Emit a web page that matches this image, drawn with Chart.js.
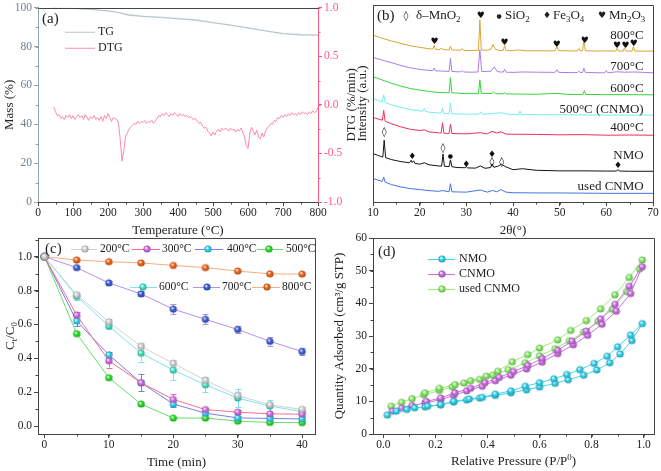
<!DOCTYPE html>
<html>
<head>
<meta charset="utf-8">
<script src="https://cdn.jsdelivr.net/npm/chart.js@4.4.1/dist/chart.umd.min.js"></script>
<style>
  html, body { margin: 0; padding: 0; background: #fff; }
  #wrap { position: relative; width: 661px; height: 471px; overflow: hidden; }
  #wrap canvas { position: absolute; left: 0; top: 0; }
</style>
</head>
<body>
<div id="wrap">
  <canvas id="cA" width="661" height="471"></canvas>
  <canvas id="cB" width="661" height="471"></canvas>
  <canvas id="cC" width="661" height="471"></canvas>
  <canvas id="cD" width="661" height="471"></canvas>
</div>
<script>
// ---------- (a) TG / DTG ----------
const tempTicks = [0, 100, 200, 300, 400, 500, 600, 700, 800];
const massTicks = [0, 20, 40, 60, 80, 100];
const dtgTicks = [-1, -0.5, 0, 0.5, 1];

const tgTemp = [40, 100, 150, 200, 225, 240, 255, 275, 300, 350, 400, 450, 500, 550, 600, 650, 700, 750, 800];
const tgMass = [100, 99.7, 99.2, 98.4, 97.8, 97.1, 96.4, 96.0, 95.6, 95.0, 94.4, 93.7, 92.3, 91.1, 89.6, 88.1, 86.7, 86.1, 85.9];

const dtgTemp = [
  45, 50, 55, 60, 65, 70, 75, 80, 85, 90, 95, 100, 105, 110, 115, 120, 125, 130, 135, 140,
  145, 150, 155, 160, 165, 170, 175, 180, 185, 190, 195, 200, 205, 210, 215, 220, 225, 230, 235, 240,
  245, 250, 255, 260, 265, 270, 275, 280, 285, 290, 295, 300, 305, 310, 315, 320, 325, 330, 335, 340,
  345, 350, 355, 360, 365, 370, 375, 380, 385, 390, 395, 400, 405, 410, 415, 420, 425, 430, 435, 440,
  445, 450, 455, 460, 465, 470, 475, 480, 485, 490, 495, 500, 505, 510, 515, 520, 525, 530, 535, 540,
  545, 550, 555, 560, 565, 570, 575, 580, 585, 590, 595, 600, 605, 610, 615, 620, 625, 630, 635, 640,
  645, 650, 655, 660, 665, 670, 675, 680, 685, 690, 695, 700, 705, 710, 715, 720, 725, 730, 735, 740,
  745, 750, 755, 760, 765, 770, 775, 780, 785, 790, 795, 800
];
const dtgRate = [
  -0.02, -0.07, -0.11, -0.10, -0.14, -0.12, -0.15, -0.11, -0.13, -0.10, -0.14, -0.11, -0.15, -0.12, -0.10, -0.13, -0.11, -0.15, -0.10, -0.13,
  -0.16, -0.12, -0.14, -0.11, -0.15, -0.13, -0.16, -0.12, -0.17, -0.11, -0.14, -0.09, -0.13, -0.17, -0.13, -0.14, -0.15, -0.19, -0.36, -0.58,
  -0.47, -0.33, -0.29, -0.25, -0.23, -0.21, -0.19, -0.20, -0.17, -0.19, -0.17, -0.18, -0.16, -0.19, -0.17, -0.18, -0.16, -0.19, -0.17, -0.14,
  -0.11, -0.12, -0.09, -0.11, -0.08, -0.10, -0.12, -0.09, -0.11, -0.08, -0.10, -0.12, -0.09, -0.11, -0.10, -0.12, -0.11, -0.13, -0.12, -0.14,
  -0.15, -0.14, -0.17, -0.19, -0.18, -0.22, -0.24, -0.23, -0.27, -0.29, -0.32, -0.28, -0.31, -0.27, -0.25, -0.28, -0.24, -0.26, -0.24, -0.25,
  -0.27, -0.24, -0.26, -0.25, -0.28, -0.25, -0.27, -0.24, -0.28, -0.33, -0.42, -0.45, -0.30, -0.23, -0.27, -0.31, -0.26, -0.33, -0.35, -0.29,
  -0.33, -0.27, -0.24, -0.22, -0.19, -0.20, -0.16, -0.17, -0.13, -0.14, -0.11, -0.13, -0.10, -0.12, -0.09, -0.11, -0.08, -0.10, -0.09, -0.11,
  -0.08, -0.10, -0.07, -0.09, -0.08, -0.10, -0.07, -0.09, -0.06, -0.08, -0.07, -0.02
];

// ---------- (b) XRD, [2theta, stacked intensity] ----------
const thetaTicks = [10, 20, 30, 40, 50, 60, 70];
const xrd800 = [[10,84.7],[12,83.1],[14,81.7],[16,80.5],[18,79.3],[20,78.5],[22,77.8],[22.8,77.6],[23.1,79.6],[23.4,77.5],
  [24.3,77.4],[24.6,78.2],[24.9,77.4],[26.3,77.2],[26.6,79.0],[26.9,77.2],[28,77.1],[28.8,77.0],[29.1,77.9],[29.4,77.0],
  [31,76.9],[32.6,77.0],[32.9,92.5],[33.2,77.2],[34.5,77.0],[35.3,77.6],[35.7,80.0],[36.2,77.6],[37,77.0],[37.9,76.9],
  [38.2,79.4],[38.5,76.9],[40,76.8],[41,77.2],[43,76.7],[45,76.8],[48,76.7],[49.0,76.8],[49.4,78.8],[49.8,76.8],
  [52,76.7],[53.8,76.7],[54.1,77.9],[54.4,76.7],[54.9,76.8],[55.2,82.3],[55.5,76.8],[58,76.6],[60,76.7],[62.0,76.6],
  [62.3,78.0],[62.6,76.6],[63.6,76.6],[63.9,78.3],[64.2,76.6],[65.5,76.6],[65.8,78.8],[66.1,76.6],[68,76.6],[70,76.6]];
const xrd700 = [[10,73.4],[12,72.0],[14,70.7],[16,69.3],[18,68.1],[20,67.3],[22,66.8],[22.8,66.7],[23.1,68.0],[23.4,66.6],
  [24.5,66.5],[26.3,66.3],[26.6,72.9],[26.9,66.3],[28,66.1],[28.8,66.1],[29.1,66.8],[29.4,66.0],[31,65.9],[32.5,66.0],
  [32.9,77.3],[33.3,66.2],[35.3,66.4],[36,68.6],[36.6,66.2],[37.9,65.9],[38.2,67.4],[38.5,65.9],[40,65.8],[42,66.0],
  [45,65.9],[49.0,65.8],[49.4,67.1],[49.8,65.8],[52,65.7],[53.8,65.7],[54.1,66.4],[54.4,65.7],[54.9,65.8],[55.2,67.9],
  [55.5,65.8],[58,65.6],[59.7,65.6],[60,66.7],[60.3,65.6],[62.3,66.1],[64,65.9],[66,66.0],[70,65.6]];
const xrd600 = [[10,63.6],[12,61.9],[14,60.2],[16,58.8],[18,57.6],[20,56.8],[22,56.1],[24,55.6],[26.3,55.4],[26.6,63.2],
  [26.9,55.4],[28,55.3],[30,55.0],[32.6,55.0],[32.9,62.0],[33.2,55.1],[35.4,55.1],[35.8,55.9],[36.2,55.0],[37.9,54.9],
  [38.2,55.6],[38.5,54.9],[40,54.8],[45,54.7],[49.4,55.1],[52,54.6],[55.0,54.6],[55.3,56.6],[55.6,54.6],[60,54.5],
  [65,54.5],[70,54.4]];
const xrd500 = [[10,52.5],[12,50.8],[12.3,54.4],[12.6,50.5],[14,49.3],[16,48.0],[18,46.9],[20,46.3],[20.7,46.1],[21,47.7],
  [21.3,46.0],[22,45.6],[24,45.2],[24.6,45.1],[24.9,47.6],[25.2,45.0],[26.3,44.9],[26.6,50.3],[26.9,44.9],[28,44.7],
  [30,44.6],[32.7,44.6],[33.1,45.8],[33.5,44.5],[35.7,45.0],[37.4,45.3],[39,44.5],[41.2,44.4],[41.5,46.1],[41.8,44.4],
  [45,44.3],[50,44.3],[60,44.1],[70,44.1]];
const xrd400 = [[10,42.9],[12,41.5],[12.3,46.5],[12.6,41.0],[14,39.7],[16,38.1],[18,36.9],[20,36.3],[21,36.6],[22,35.6],
  [24,35.1],[24.6,35.0],[24.9,40.2],[25.2,34.9],[26.3,34.8],[26.6,39.5],[26.9,34.8],[28,34.7],[30,34.6],[33,35.2],
  [34.5,34.6],[35.5,35.9],[36.5,35.0],[37.4,35.6],[38.5,34.5],[40,34.4],[45,34.3],[50,34.1],[55,34.2],[60,33.9],
  [65,34.0],[70,33.9]];
const xrdNMO = [[10,24.6],[11,23.7],[12.1,22.8],[12.4,31.4],[12.7,22.5],[14,21.5],[16,20.5],[17.8,19.9],[18.2,21.2],[18.4,20.0],
  [18.7,20.9],[19.0,19.6],[20,19.2],[21,19.9],[22,18.9],[24,18.3],[24.7,18.2],[25,24.4],[25.3,18.1],[26.3,18.0],
  [26.6,21.4],[26.9,17.9],[28,17.5],[29.7,17.4],[30,17.9],[30.3,17.3],[32,17.2],[33,18.3],[34,17.1],[35.2,17.5],
  [35.5,19.4],[35.9,17.6],[36.8,18.2],[37.5,19.2],[38.3,18.0],[40,16.4],[42,16.9],[45,16.1],[50,15.8],[55,15.8],
  [60,15.7],[62.2,15.7],[62.5,16.5],[62.8,15.7],[65,15.6],[70,15.6]];
const xrdUsed = [[10,11.9],[12,10.5],[12.3,12.6],[12.6,10.1],[14,8.8],[16,7.6],[18,6.8],[20,6.3],[22,5.8],[24,5.4],
  [24.9,5.8],[26.3,5.2],[26.6,9.3],[26.9,5.2],[28,5.1],[30,5.0],[33,6.1],[34.5,5.0],[35.6,5.9],[36.5,5.2],
  [37.4,6.3],[38.5,5.0],[40,4.7],[45,4.6],[50,4.6],[60,4.4],[70,4.4]];
const xrdNames = ['800°C', '700°C', '600°C', '500°C (CNMO)', '400°C', 'NMO', 'used CNMO'];

// phase marks [2theta, intensity]
const markDelta = [[12.4,35.1],[25,27.1],[35.5,20.2],[37.6,20.2]];
const markSiO2 = [[26.6,23.2]];
const markFe3O4 = [[18.4,22.9],[30,19.0],[35.5,23.9],[62.5,18.3]];
const markMn2O3 = [[23.2,81.3],[33.1,94.6],[38.2,80.8],[49.4,80.0],[55.4,81.9],[62.3,79.3],[64.1,79.3],[65.9,80.2]];

// ---------- (c) Ct/C0 vs time ----------
const timeTicks = [0, 10, 20, 30, 40];
const ratioTicks = [0, 0.2, 0.4, 0.6, 0.8, 1.0];
const timeMin = [0, 5, 10, 15, 20, 25, 30, 35, 40];
const cLabels = ['200°C', '300°C', '400°C', '500°C', '600°C', '700°C', '800°C'];
const c200 = [1.0, 0.775, 0.615, 0.47, 0.37, 0.27, 0.18, 0.125, 0.098];
const c300 = [1.0, 0.655, 0.385, 0.255, 0.157, 0.097, 0.082, 0.072, 0.07];
const c400 = [1.0, 0.62, 0.42, 0.255, 0.13, 0.076, 0.048, 0.045, 0.042];
const c500 = [1.0, 0.545, 0.285, 0.13, 0.047, 0.047, 0.029, 0.021, 0.02];
const c600 = [1.0, 0.765, 0.59, 0.43, 0.33, 0.243, 0.165, 0.118, 0.085];
const c700 = [1.0, 0.935, 0.845, 0.78, 0.69, 0.63, 0.57, 0.50, 0.44];
const c800 = [1.0, 0.98, 0.97, 0.963, 0.948, 0.935, 0.915, 0.898, 0.897];
const e200 = [0, 0.01, 0.015, 0.02, 0.02, 0.015, 0.02, 0.015, 0.015];
const e300 = [0, 0.02, 0.04, 0.015, 0.03, 0.01, 0.01, 0.01, 0.01];
const e400 = [0, 0.03, 0.02, 0.05, 0.02, 0.01, 0.01, 0.01, 0.01];
const e500 = [0, 0.01, 0.01, 0.01, 0.005, 0.005, 0.005, 0.005, 0.005];
const e600 = [0, 0.02, 0.02, 0.05, 0.06, 0.045, 0.055, 0.035, 0.025];
const e700 = [0, 0.01, 0.01, 0.015, 0.03, 0.03, 0.02, 0.025, 0.02];
const e800 = [0, 0.005, 0.005, 0.005, 0.005, 0.005, 0.005, 0.005, 0.005];

// ---------- (d) N2 isotherms (adsorption then desorption) ----------
const pTicks = [0, 0.2, 0.4, 0.6, 0.8, 1.0];
const qTicks = [0, 10, 20, 30, 40, 50, 60];
const nmoP = [0.015,0.05,0.09,0.12,0.16,0.22,0.27,0.32,0.37,0.43,0.49,0.55,0.60,0.66,0.71,0.77,0.82,0.87,0.91,0.955,0.995,
  0.95,0.90,0.86,0.81,0.755,0.705,0.655,0.60,0.545,0.49,0.43,0.38,0.33,0.27,0.22,0.17];
const nmoQ = [5.8,7.0,7.5,8.0,8.3,8.9,9.8,10.4,11.0,11.8,12.6,13.5,14.4,15.5,16.6,18.0,19.6,21.8,24.5,28.6,33.8,
  30.3,26.7,23.8,21.6,19.7,18.2,16.9,15.7,14.6,13.2,12.2,11.2,10.7,10.0,9.0,8.5];
const cnmoP = [0.035,0.07,0.11,0.16,0.22,0.27,0.32,0.38,0.43,0.49,0.55,0.61,0.67,0.73,0.785,0.84,0.895,0.95,0.995,
  0.945,0.89,0.835,0.78,0.725,0.67,0.61,0.555,0.50,0.445,0.39,0.335,0.275,0.22,0.165];
const cnmoQ = [7.0,7.9,8.7,9.5,10.5,11.8,13.2,14.6,16.3,18.0,19.9,22.0,24.6,27.3,30.2,33.6,37.6,43.0,51.2,
  45.2,39.7,35.2,31.5,28.4,25.6,23.1,21.0,19.1,17.3,15.7,14.0,12.6,11.0,10.0];
const usedP = [0.03,0.07,0.11,0.155,0.215,0.265,0.31,0.37,0.42,0.48,0.545,0.60,0.66,0.715,0.77,0.825,0.88,0.935,0.985,
  0.995,0.945,0.89,0.835,0.78,0.72,0.67,0.60,0.555,0.495,0.44,0.395,0.335,0.275,0.215,0.16];
const usedQ = [8.5,9.7,10.8,12.0,13.3,14.4,15.6,16.7,18.0,19.7,21.8,23.9,26.1,28.5,31.2,34.5,38.2,43.6,50.5,
  53.3,47.9,42.6,38.3,34.7,31.7,28.8,26.3,24.3,22.1,19.2,17.7,16.3,15.1,14.0,12.6];
const isoNames = ['NMO', 'CNMO', 'used CNMO'];

// ---------- helpers ----------
const SERIF = "'Liberation Serif', 'Times New Roman', serif";
const SYM = "'DejaVu Sans', sans-serif";
Chart.defaults.font.family = SERIF;
Chart.defaults.color = '#222';
const AX = '#444';

function pts(xs, ys) { return xs.map((x, i) => ({ x: x, y: ys[i] })); }
function pairs(list) { return list.map(p => ({ x: p[0], y: p[1] })); }

function darken(hex, f) {
  const n = parseInt(hex.slice(1), 16);
  const r = Math.round(((n >> 16) & 255) * (1 - f));
  const g = Math.round(((n >> 8) & 255) * (1 - f));
  const b = Math.round((n & 255) * (1 - f));
  return `rgb(${r},${g},${b})`;
}

function ball(col, r) {
  const c = document.createElement('canvas');
  const s = Math.ceil(2 * r + 2);
  c.width = c.height = s;
  const g = c.getContext('2d'), m = s / 2;
  const gr = g.createRadialGradient(m - r * 0.3, m - r * 0.35, r * 0.05, m, m, r);
  gr.addColorStop(0, '#ffffff');
  gr.addColorStop(0.45, col);
  gr.addColorStop(1, darken(col, 0.28));
  g.fillStyle = gr;
  g.beginPath(); g.arc(m, m, r, 0, 2 * Math.PI); g.fill();
  return c;
}

function axis(o) {
  const col = o.color || AX;
  return {
    type: 'linear', position: o.pos, min: o.min, max: o.max,
    afterBuildTicks: s => { s.ticks = o.ticks.map(v => ({ value: v })); },
    afterFit: s => { if (o.pos === 'bottom') s.height = o.size; else s.width = o.size; },
    border: { color: col, width: 1 },
    grid: { drawOnChartArea: false, drawTicks: o.noTicks ? false : true, tickLength: 4, tickColor: col },
    ticks: {
      display: !o.noLabels, color: o.labelColor || '#222', padding: o.pos === 'bottom' ? 1 : 2,
      font: { size: 11.5, lineHeight: 1 }, autoSkip: false, maxRotation: 0,
      callback: o.fmt || (v => v)
    },
    title: o.title ? { display: true, text: o.title, color: '#222', font: { size: 13 }, padding: { top: 2, bottom: 1 } } : { display: false }
  };
}

function drawMinor(chart, id, step, color) {
  const s = chart.scales[id], ctx = chart.ctx;
  ctx.save(); ctx.strokeStyle = color || AX; ctx.lineWidth = 1; ctx.beginPath();
  for (let i = Math.ceil(s.min / step - 1e-6); i * step <= s.max + 1e-6; i++) {
    const p = Math.round(s.getPixelForValue(i * step)) + 0.5;
    if (s.position === 'bottom') { ctx.moveTo(p, s.top); ctx.lineTo(p, s.top + 2.5); }
    else if (s.position === 'left') { ctx.moveTo(s.right, p); ctx.lineTo(s.right - 2.5, p); }
    else { ctx.moveTo(s.left, p); ctx.lineTo(s.left + 2.5, p); }
  }
  ctx.stroke(); ctx.restore();
}

function frame(chart, topOnly) {
  const ctx = chart.ctx, a = chart.chartArea;
  const l = Math.round(a.left) + 0.5, t = Math.round(a.top) + 0.5;
  const r = Math.round(a.right) + 0.5, b = Math.round(a.bottom) + 0.5;
  ctx.save(); ctx.strokeStyle = AX; ctx.lineWidth = 1; ctx.beginPath();
  ctx.moveTo(l, t); ctx.lineTo(r, t);
  if (!topOnly) { ctx.lineTo(r, b); ctx.lineTo(l, b); ctx.closePath(); }
  ctx.stroke(); ctx.restore();
}

// parts: strings or [text, 'sub'|'sup'|'', fontFamily]
function rich(ctx, parts, x, y, size, align, color) {
  ctx.save();
  ctx.fillStyle = color || '#222';
  ctx.textBaseline = 'middle';
  ctx.textAlign = 'left';
  const seg = parts.map(p => {
    const t = typeof p === 'string' ? [p, ''] : p;
    const fam = t[2] || SERIF;
    const fs = t[1] ? size * 0.68 : size;
    ctx.font = `${fs}px ${fam}`;
    return { text: t[0], fs: fs, fam: fam, w: ctx.measureText(t[0]).width,
      dy: t[1] === 'sub' ? size * 0.28 : t[1] === 'sup' ? -size * 0.32 : 0 };
  });
  const total = seg.reduce((s, g) => s + g.w, 0);
  let cx = align === 'center' ? x - total / 2 : align === 'right' ? x - total : x;
  seg.forEach(g => { ctx.font = `${g.fs}px ${g.fam}`; ctx.fillText(g.text, cx, y + g.dy); cx += g.w; });
  ctx.restore();
}

function richRot(ctx, parts, x, y, size) {
  ctx.save(); ctx.translate(x, y); ctx.rotate(-Math.PI / 2);
  rich(ctx, parts, 0, 0, size, 'center');
  ctx.restore();
}

function seg(ctx, x1, x2, y, col) {
  ctx.save(); ctx.strokeStyle = col; ctx.lineWidth = 1;
  ctx.beginPath(); ctx.moveTo(x1, y + 0.5); ctx.lineTo(x2, y + 0.5); ctx.stroke(); ctx.restore();
}

const baseOpts = {
  responsive: false, animation: false, events: [],
  plugins: { legend: { display: false }, tooltip: { enabled: false } }
};

// ---------- chart (a) ----------
const tgCol = '#b9c6cb', dtgCol = '#ff8aa9', pink = '#ff5a85';
new Chart(document.getElementById('cA'), {
  type: 'scatter',
  data: { datasets: [
    { data: pts(tgTemp, tgMass), yAxisID: 'y', showLine: true, borderColor: tgCol, borderWidth: 1.3, pointRadius: 0 },
    { data: pts(dtgTemp, dtgRate), yAxisID: 'y1', showLine: true, borderColor: dtgCol, borderWidth: 1, pointRadius: 0 }
  ] },
  options: Object.assign({}, baseOpts, {
    layout: { padding: { left: 0, right: 313, top: 6, bottom: 232 } },
    scales: {
      x: axis({ pos: 'bottom', min: 0, max: 800, ticks: tempTicks, size: 37, title: 'Temperature (°C)' }),
      y: axis({ pos: 'left', min: 0, max: 100, ticks: massTicks, size: 38, title: 'Mass (%)', color: '#93a5ae', labelColor: '#6f818b' }),
      y1: axis({ pos: 'right', min: -1, max: 1, ticks: dtgTicks, size: 30, color: pink, labelColor: pink, fmt: v => v.toFixed(1) })
    }
  }),
  plugins: [{
    id: 'decorA',
    afterDraw(chart) {
      const ctx = chart.ctx, y1 = chart.scales.y1, a = chart.chartArea;
      drawMinor(chart, 'x', 50);
      drawMinor(chart, 'y', 10, '#93a5ae');
      drawMinor(chart, 'y1', 0.25, pink);
      frame(chart, true);
      richRot(ctx, ['DTG (%/min)'], y1.right + 4, (a.top + a.bottom) / 2, 13);
      rich(ctx, ['(a)'], a.left + 4, a.top + 11, 15, 'left');
      seg(ctx, a.left + 27, a.left + 57, a.top + 24, tgCol);
      rich(ctx, ['TG'], a.left + 60, a.top + 24, 12, 'left');
      seg(ctx, a.left + 27, a.left + 57, a.top + 40, dtgCol);
      rich(ctx, ['DTG'], a.left + 60, a.top + 40, 12, 'left');
    }
  }]
});

// ---------- chart (b) ----------
const xrdCols = ['#d9a531', '#a97de9', '#36d23c', '#74ecee', '#ef2f58', '#141414', '#4274de'];
const xrdSets = [xrd800, xrd700, xrd600, xrd500, xrd400, xrdNMO, xrdUsed];
const xrdLabelAt = [84.7, 68.6, 57.6, 47.0, 37.6, 23.7, 7.6];
new Chart(document.getElementById('cB'), {
  type: 'scatter',
  data: { datasets: xrdSets.map((s, i) => ({
    label: xrdNames[i], data: pairs(s), showLine: true, borderColor: xrdCols[i], borderWidth: 1, pointRadius: 0
  })) },
  options: Object.assign({}, baseOpts, {
    layout: { padding: { left: 353, right: 8, top: 5, bottom: 232 } },
    scales: {
      x: axis({ pos: 'bottom', min: 10, max: 70, ticks: thetaTicks, size: 37, title: '2θ(°)' }),
      y: axis({ pos: 'left', min: 0, max: 100, ticks: [], size: 20, title: 'Intensity (a.u.)', noTicks: true, noLabels: true })
    }
  }),
  plugins: [{
    id: 'decorB',
    afterDraw(chart) {
      const ctx = chart.ctx, xs = chart.scales.x, ys = chart.scales.y, a = chart.chartArea;
      drawMinor(chart, 'x', 5);
      frame(chart);
      const mark = (list, glyph, size) => list.forEach(p => {
        ctx.save(); ctx.fillStyle = '#111'; ctx.font = `${size}px ${SYM}`;
        ctx.textAlign = 'center'; ctx.textBaseline = 'middle';
        ctx.fillText(glyph, xs.getPixelForValue(p[0]), ys.getPixelForValue(p[1]));
        ctx.restore();
      });
      mark(markDelta, '◊', 10);
      mark(markSiO2, '●', 6);
      mark(markFe3O4, '♦', 9);
      mark(markMn2O3, '♥', 9);
      xrdNames.forEach((n, i) => rich(ctx, [n], xs.getPixelForValue(68.0), ys.getPixelForValue(xrdLabelAt[i]), 13, 'right'));
      const ly = a.top + 11;
      rich(ctx, ['(b)'], a.left + 4, ly, 15, 'left');
      rich(ctx, [['◊', '', SYM]], a.left + 33, ly, 10, 'center');
      rich(ctx, ['δ–MnO', ['2', 'sub']], a.left + 43, ly, 13, 'left');
      rich(ctx, [['●', '', SYM]], a.left + 126, ly, 6, 'center');
      rich(ctx, ['SiO', ['2', 'sub']], a.left + 132, ly, 13, 'left');
      rich(ctx, [['♦', '', SYM]], a.left + 174, ly, 9, 'center');
      rich(ctx, ['Fe', ['3', 'sub'], 'O', ['4', 'sub']], a.left + 180, ly, 13, 'left');
      rich(ctx, [['♥', '', SYM]], a.left + 229, ly, 9, 'center');
      rich(ctx, ['Mn', ['2', 'sub'], 'O', ['3', 'sub']], a.left + 236, ly, 13, 'left');
    }
  }]
});

// ---------- chart (c) ----------
const cSeries = [c200, c300, c400, c500, c600, c700, c800];
const cErrs = [e200, e300, e400, e500, e600, e700, e800];
const cLine = ['#d2d2d2', '#f2708c', '#7d7de6', '#66dd66', '#7fe3f0', '#b592e8', '#f8ad82'];
const cBall = ['#d6d6d6', '#d46ee8', '#2fd4f2', '#2ee02e', '#3fe6c6', '#3c5fd8', '#f2661c'];
const cImg = cBall.map(c => ball(c, 3.6));
new Chart(document.getElementById('cC'), {
  type: 'scatter',
  data: { datasets: cSeries.map((s, i) => ({
    label: cLabels[i], data: pts(timeMin, s), showLine: true, borderColor: cLine[i], borderWidth: 1,
    pointStyle: cImg[i], pointRadius: 4, clip: false
  })) },
  options: Object.assign({}, baseOpts, {
    layout: { padding: { left: 0, right: 346, top: 238, bottom: 0 } },
    scales: {
      x: axis({ pos: 'bottom', min: -1, max: 42, ticks: timeTicks, size: 37, title: 'Time (min)' }),
      y: axis({ pos: 'left', min: -0.047, max: 1.11, ticks: ratioTicks, size: 38, fmt: v => v.toFixed(1) })
    }
  }),
  plugins: [{
    id: 'decorC',
    beforeDatasetsDraw(chart) {
      const ctx = chart.ctx, ys = chart.scales.y;
      cErrs.forEach((errs, i) => {
        const meta = chart.getDatasetMeta(i);
        ctx.save(); ctx.strokeStyle = cLine[i]; ctx.lineWidth = 1; ctx.beginPath();
        errs.forEach((e, j) => {
          if (!e) return;
          const x = Math.round(meta.data[j].x) + 0.5;
          const t = ys.getPixelForValue(cSeries[i][j] + e), b = ys.getPixelForValue(cSeries[i][j] - e);
          ctx.moveTo(x, t); ctx.lineTo(x, b);
          ctx.moveTo(x - 3, Math.round(t) + 0.5); ctx.lineTo(x + 3, Math.round(t) + 0.5);
          ctx.moveTo(x - 3, Math.round(b) + 0.5); ctx.lineTo(x + 3, Math.round(b) + 0.5);
        });
        ctx.stroke(); ctx.restore();
      });
    },
    afterDraw(chart) {
      const ctx = chart.ctx, a = chart.chartArea, ys = chart.scales.y;
      drawMinor(chart, 'x', 5);
      drawMinor(chart, 'y', 0.1);
      frame(chart);
      richRot(ctx, ['C', ['t', 'sub'], '/C', ['0', 'sub']], ys.left + 11, (a.top + a.bottom) / 2, 13);
      rich(ctx, ['(c)'], a.left + 7, a.top + 11, 15, 'left');
      // legend: [series, lineStart, lineEnd, ballX, textX, y]
      const items = [[0, 71, 97, 85, 100, 249], [1, 132, 160, 147, 162, 249], [2, 195, 223, 208, 227, 249], [3, 257, 283, 269, 286, 249],
        [4, 130, 157, 143, 159, 287], [5, 193, 220, 207, 222, 287], [6, 252, 280, 267, 282, 287]];
      items.forEach(it => {
        seg(ctx, it[1], it[2], it[5], cLine[it[0]]);
        const im = cImg[it[0]];
        ctx.drawImage(im, it[3] - im.width / 2, it[5] - im.height / 2);
        rich(ctx, [cLabels[it[0]]], it[4], it[5], 11.5, 'left');
      });
    }
  }]
});

// ---------- chart (d) ----------
const dLine = ['#3fd6f0', '#cf6fe6', '#99ee77'];
const dBall = ['#33d4f0', '#cf6fe6', '#8aee6a'];
const dImg = dBall.map(c => ball(c, 3.6));
const dSets = [pts(nmoP, nmoQ), pts(cnmoP, cnmoQ), pts(usedP, usedQ)];
new Chart(document.getElementById('cD'), {
  type: 'scatter',
  data: { datasets: dSets.map((d, i) => ({
    label: isoNames[i], data: d, showLine: true, borderColor: dLine[i], borderWidth: 1,
    pointStyle: dImg[i], pointRadius: 4
  })) },
  options: Object.assign({}, baseOpts, {
    layout: { padding: { left: 330, right: 7, top: 238, bottom: 0 } },
    scales: {
      x: axis({ pos: 'bottom', min: -0.04, max: 1.04, ticks: pTicks, size: 37, fmt: v => v.toFixed(1) }),
      y: axis({ pos: 'left', min: 0, max: 60, ticks: qTicks, size: 43, title: 'Quantity Adsorbed (cm³/g STP)' })
    }
  }),
  plugins: [{
    id: 'decorD',
    afterDraw(chart) {
      const ctx = chart.ctx, a = chart.chartArea;
      drawMinor(chart, 'x', 0.1);
      drawMinor(chart, 'y', 5);
      frame(chart);
      rich(ctx, ['Relative Pressure (P/P', ['0', 'sup'], ')'], (a.left + a.right) / 2, 462, 13, 'center');
      rich(ctx, ['(d)'], a.left + 5, a.top + 14, 15, 'left');
      [259, 274, 289].forEach((y, i) => {
        seg(ctx, 428, 455, y, dLine[i]);
        ctx.drawImage(dImg[i], 442 - dImg[i].width / 2, y - dImg[i].height / 2);
        rich(ctx, [isoNames[i]], 459, y, 12, 'left');
      });
    }
  }]
});
</script>
</body>
</html>
